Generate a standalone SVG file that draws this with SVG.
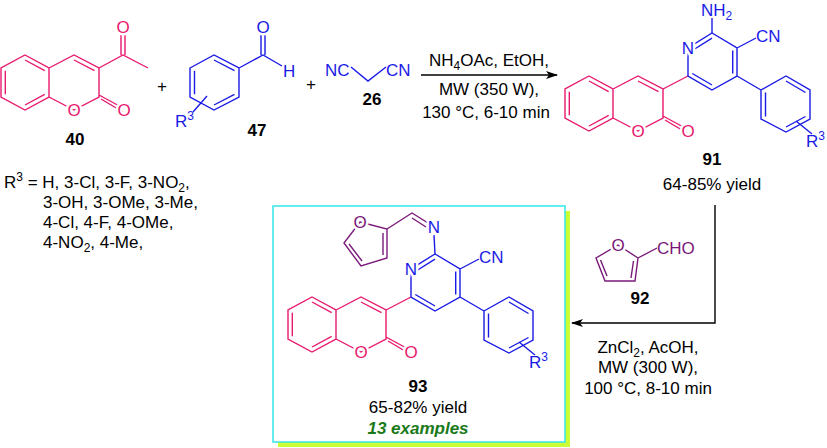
<svg xmlns="http://www.w3.org/2000/svg" width="827" height="448" viewBox="0 0 827 448">
<style>
text{font-family:"Liberation Sans",Arial,sans-serif;font-size:17px}
.pk{stroke:#e8196e;fill:none;stroke-width:1.4}
.bl{stroke:#1a1ae6;fill:none;stroke-width:1.4}
.pu{stroke:#7a1a7a;fill:none;stroke-width:1.4}
.tp{fill:#e8196e}.tb{fill:#1a1ae6}.tu{fill:#7a1a7a}
.at{paint-order:stroke;stroke:#fff;stroke-width:5px;text-anchor:middle}
.b{font-weight:bold;text-anchor:middle}
.c{text-anchor:middle}
</style>
<defs>
<marker id="ah" markerWidth="12" markerHeight="8" refX="11" refY="4" orient="auto" markerUnits="userSpaceOnUse"><path d="M0,0 L12,4 L0,8 L3,4 Z" fill="#000"/></marker>
<g id="coum">
<path class="pk" d="M25,55 L49,68 L49,97 L25,110 L1,97 L1,68 Z M49,68 L74,55 L99,68 L99,97 L74,110 L49,97 M25,60 L44.7,70.7 M44.7,94.3 L25,105 M5.3,94.3 L5.3,70.7 M74,60 L94.5,70.7 M99,95 L123,108 M101,99 L123,112"/>
<text class="tp at" x="74" y="116">O</text>
<text class="tp at" x="124" y="116">O</text>
</g>
<g id="core">
<use href="#coum" x="564" y="21"/>
<path class="pk" d="M663,89 L688,76"/>
<path class="bl" d="M688,76 L688,48 L712,33 L737,48 L737,76 L712,90 Z M692.3,50.5 L712,38.2 M732.7,50.5 L732.7,73.5 M712,85 L692.3,73.5 M737,48 L756,38 M737,76 L761,90 M761,90 L786,76 L810,90 L810,119 L786,132 L761,119 Z M786,81 L805.5,92.5 M805.5,116.5 L786,127 M765.5,116.5 L765.5,92.5 M796,121 L812,134"/>
<text class="tb at" x="688" y="54">N</text>
<text class="tb" x="756" y="42">CN</text>
<text class="tb" x="806" y="147">R<tspan font-size="12" dy="-7">3</tspan></text>
</g>
</defs>
<g id="c40">
<use href="#coum"/>
<path class="pk" d="M99,68 L123,55 L148,68 M121,55 L121,30 M125,55 L125,30"/>
<text class="tp at" x="123" y="33">O</text>
<text class="b" x="75" y="145">40</text>
</g>
<text x="162" y="92" class="c">+</text>
<g id="c47">
<path class="bl" d="M190,68 L214,55 L239,68 L239,97 L214,110 L190,97 Z M214,60 L234.5,70.7 M234.5,94.3 L214,105 M194.5,94.3 L194.5,70.7 M239,68 L263,55 L282,66 M261,55 L261,30 M265,55 L265,30 M207,96 L193,112"/>
<text class="tb at" x="263" y="33">O</text>
<text class="tb" x="283" y="77">H</text>
<text class="tb" x="175" y="127">R<tspan font-size="12" dy="-7">3</tspan></text>
<text class="b" x="257" y="136">47</text>
</g>
<text x="311" y="90" class="c">+</text>
<g id="c26">
<path class="bl" d="M351,67 L368,81 L386,67"/>
<text class="tb" x="325" y="76">NC</text>
<text class="tb" x="386" y="76">CN</text>
<text class="b" x="372" y="105">26</text>
</g>
<g id="c91">
<use href="#core"/>
<path class="bl" d="M712,33 L712,18"/>
<text class="tb" x="701" y="16">NH<tspan font-size="12" dy="4">2</tspan></text>
<text class="b" x="712" y="165">91</text>
<text class="c" x="712" y="190">64-85% yield</text>
</g>
<g id="c92">
<path class="pu" d="M618,245 L638,258 L635,281 L605,281 L596,258 Z M633.5,261 L631,278 M600.5,260 L607,276 M638,258 L657,248"/>
<text class="tu at" x="618" y="251">O</text>
<text class="tu" x="657" y="254">CHO</text>
<text class="b" x="640" y="304">92</text>
</g>
<g id="c93">
<rect x="278" y="211" width="292" height="236" fill="#ccff33"/>
<rect x="273" y="206" width="292" height="236" fill="#fff" stroke="#33e6e6" stroke-width="1.5"/>
<use href="#core" transform="translate(-277,221)"/>
<path class="bl" d="M435,254 L434,235"/>
<path class="pu" d="M387,229 L412,213 L428,223 M412,218 L426,227 M360,222 L387,229 L387,258 L361,266 L344,243 Z M383,233 L383,255 M362,261 L349,244"/>
<text class="tb at" x="434" y="233">N</text>
<text class="tu at" x="360" y="228">O</text>
<text class="b" x="418" y="392">93</text>
<text class="c" x="418" y="413">65-82% yield</text>
<text class="b" x="418" y="434" fill="#1a7a1a" font-style="italic">13 examples</text>
</g>
<g id="connectors" stroke="#000" stroke-width="1.4" fill="none">
<path d="M421,75 L557,75" marker-end="url(#ah)"/>
<path d="M715,205 L715,323 L572,323" marker-end="url(#ah)"/>
</g>
<g id="conds">
<text class="c" x="489" y="66">NH<tspan font-size="12" dy="4">4</tspan><tspan dy="-4">OAc, EtOH,</tspan></text>
<text class="c" x="489" y="95">MW (350 W),</text>
<text class="c" x="486" y="118">130 °C, 6-10 min</text>
<text class="c" x="648" y="353">ZnCl<tspan font-size="12" dy="4">2</tspan><tspan dy="-4">, AcOH,</tspan></text>
<text class="c" x="648" y="373">MW (300 W),</text>
<text class="c" x="648" y="394">100 °C, 8-10 min</text>
</g>
<g id="r3list">
<text x="4" y="188">R<tspan font-size="12" dy="-7">3</tspan><tspan dy="7"> = H, 3-Cl, 3-F, 3-NO</tspan><tspan font-size="12" dy="4">2</tspan><tspan dy="-4">,</tspan></text>
<text x="43" y="208">3-OH, 3-OMe, 3-Me,</text>
<text x="43" y="228">4-Cl, 4-F, 4-OMe,</text>
<text x="43" y="248">4-NO<tspan font-size="12" dy="4">2</tspan><tspan dy="-4">, 4-Me,</tspan></text>
</g>
</svg>
